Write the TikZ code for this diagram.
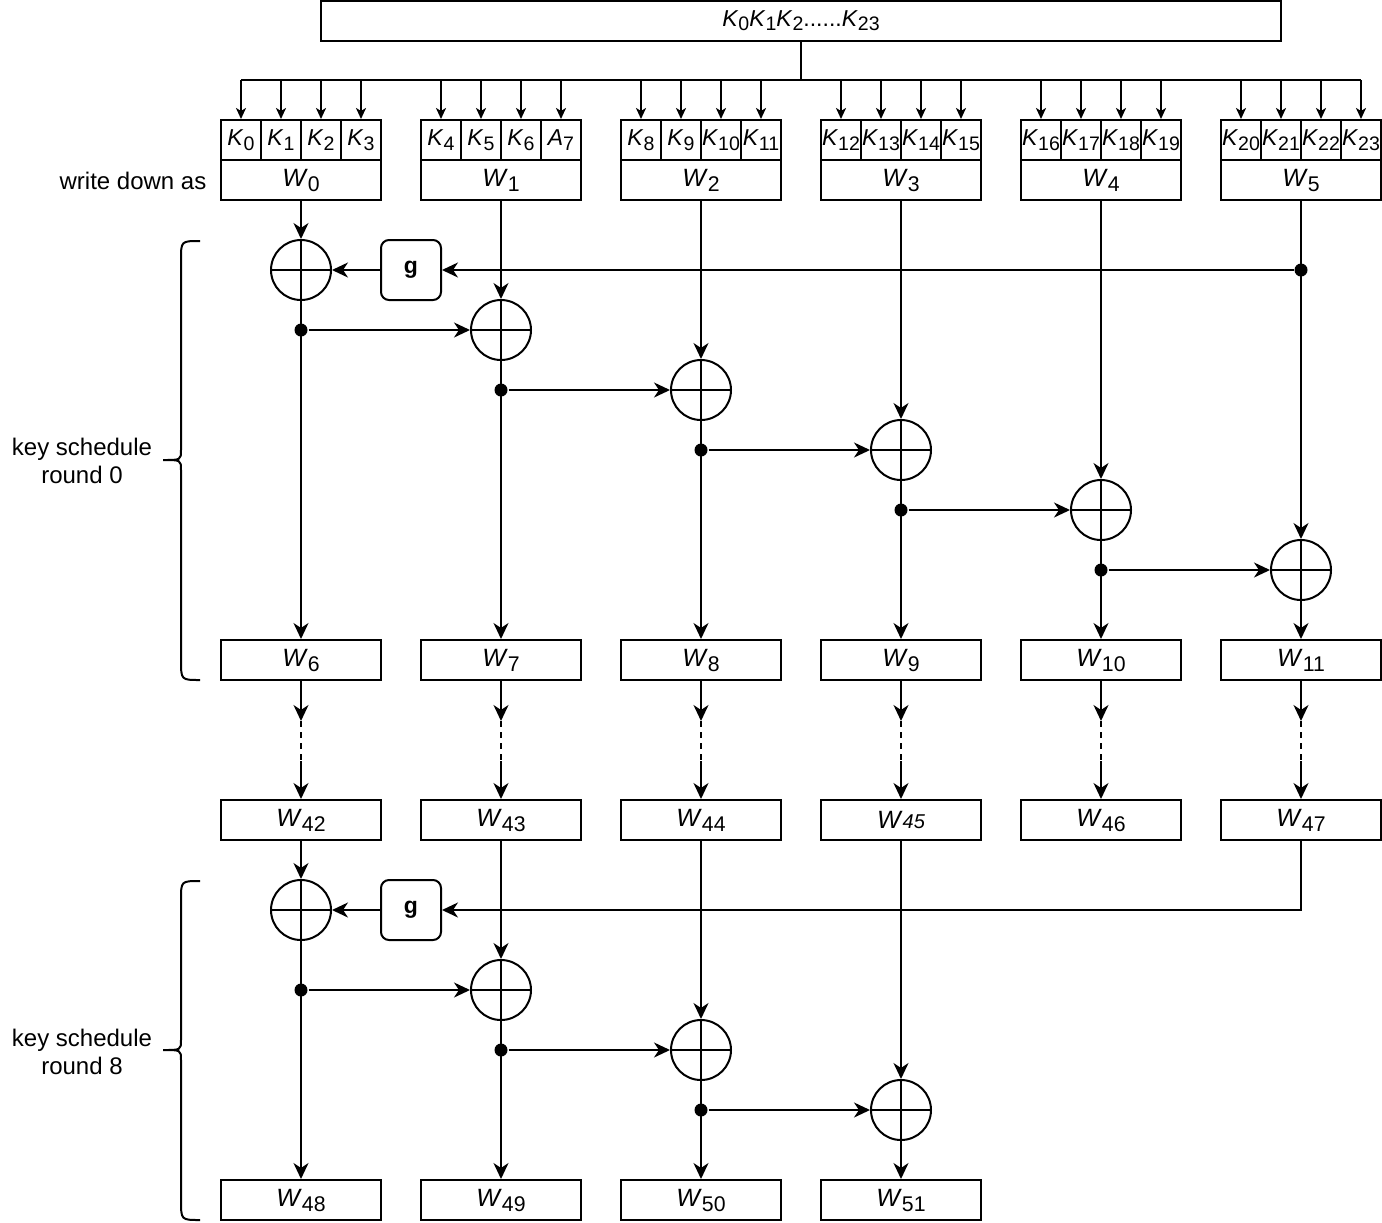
\documentclass[tikz,border=0pt]{standalone}
\usepackage{fontspec}
\setmainfont{Liberation Sans}
\usetikzlibrary{arrows.meta}
\tikzset{kcell/.style={draw, minimum width=20pt, minimum height=20pt, inner sep=0pt, font=\fontsize{11.5}{13}\selectfont}}
\tikzset{wbox/.style={draw, minimum width=80pt, minimum height=20pt, inner sep=0pt, font=\fontsize{12.5}{14}\selectfont}}
\tikzset{xorc/.style={circle, draw, minimum size=30pt, inner sep=0pt,
    path picture={\draw (path picture bounding box.north) -- (path picture bounding box.south)
      (path picture bounding box.west) -- (path picture bounding box.east);}}}
\tikzset{gbox/.style={draw, rounded corners=4pt, minimum size=30pt, inner sep=0pt, font=\fontsize{11.5}{13}\selectfont\bfseries}}
\tikzset{junc/.style={circle, fill, inner sep=0pt, minimum size=6.5pt}}
\tikzset{arr/.style={-{Stealth[length=8pt,width=7.5pt,inset=2.5pt]}}}
\tikzset{sarr/.style={-{Stealth[length=5.5pt,width=5pt,inset=1.5pt]}}}
\tikzset{lab/.style={align=center, font=\fontsize{12}{14}\selectfont}}
\newcommand{\sk}[2]{\textit{#1}\raisebox{-0.2em}{\scalebox{0.85}{#2}}}

\begin{document}
\begin{tikzpicture}[x=0.5pt,y=-0.5pt,line width=1pt]
    \useasboundingbox (0,0) rectangle (1382,1222);
    \node[draw, minimum width=480pt, minimum height=20pt, inner sep=0pt, font=\fontsize{11.5}{13}\selectfont]
      (key) at (801,20.5) {\sk{K}{0}\sk{K}{1}\sk{K}{2}......\sk{K}{23}};
    \coordinate (bus) at (801,80);
    \draw (key) -- (bus);

    % key bytes written down as words
    \foreach \i in {0,...,5} {
      \node[wbox] (w\i) at (301+200*\i,180) {\sk{W}{\i}};
      \foreach \j in {0,...,3} {
        \pgfmathtruncatemacro{\n}{4*\i+\j}
        \node[kcell] (k\n) at (241+200*\i+40*\j,140) {\ifnum\n=7 \sk{A}{7}\else\sk{K}{\n}\fi};
      }
    }
    \draw (k0.north |- bus) -- (k23.north |- bus);
    \foreach \n in {0,...,23} {
      \draw[sarr] (k\n.north |- bus) -- (k\n.north);
    }
    \node[lab, anchor=east] (wda) at (214,181) {write down as};

    % round 0
    \node[gbox] (g0) at (411,270) {g};
    \foreach \i in {0,...,5} {
      \node[xorc] (a\i) at (301+200*\i,270+60*\i) {};
    }
    \node[junc] (ja5) at (1301,270) {};
    \foreach \i in {0,...,4} {
      \node[junc] (ja\i) at (301+200*\i,330+60*\i) {};
    }
    \foreach \i/\w/\v in {0/6/42, 1/7/43, 2/8/44, 3/9/45, 4/10/46, 5/11/47} {
      \node[wbox] (w\w) at (301+200*\i,660) {\sk{W}{\w}};
      \ifnum\v=45
        \node[wbox] (w\v) at (301+200*\i,820) {\textit{W}{\fontsize{10}{12}\selectfont\textit{45}}};
      \else
        \node[wbox] (w\v) at (301+200*\i,820) {\sk{W}{\v}};
      \fi
      \draw[arr] (w\i) -- (a\i);
      \draw[arr] (a\i) -- (w\w);
      \path (w\w.south) ++(0,40) coordinate (p\i) ++(0,40) coordinate (q\i);
      \draw[arr] (w\w) -- (p\i);
      \draw[dash pattern=on 3pt off 2.5pt] (p\i) -- (q\i);
      \draw[arr] (q\i) -- (w\v);
    }
    \draw[arr] (ja5) -- (g0);
    \draw[arr] (g0) -- (a0);
    \foreach \i/\k in {0/1, 1/2, 2/3, 3/4, 4/5} {
      \draw[arr] (ja\i) -- (a\k);
    }

    % round 8
    \node[gbox] (g8) at (411,910) {g};
    \foreach \i/\y/\v/\w in {0/910/42/48, 1/990/43/49, 2/1050/44/50, 3/1110/45/51} {
      \node[xorc] (b\i) at (301+200*\i,\y) {};
      \node[wbox] (w\w) at (301+200*\i,1200) {\sk{W}{\w}};
      \draw[arr] (w\v) -- (b\i);
      \draw[arr] (b\i) -- (w\w);
    }
    \foreach \i/\k in {0/1, 1/2, 2/3} {
      \node[junc] (jb\i) at (b\i |- b\k) {};
      \draw[arr] (jb\i) -- (b\k);
    }
    \draw[arr] (w47) |- (g8);
    \draw[arr] (g8) -- (b0);

    % braces
    \draw (200,241) .. controls (181,241) .. (181,260) -- (181,450)
      .. controls (181,460) .. (163,460) .. controls (181,460) .. (181,470)
      -- (181,660) .. controls (181,680) .. (200,680);
    \node[lab] (r0) at (82,461) {key schedule\\round 0};
    \draw (200,881) .. controls (181,881) .. (181,900) -- (181,1040)
      .. controls (181,1050) .. (163,1050) .. controls (181,1050) .. (181,1060)
      -- (181,1200) .. controls (181,1220) .. (200,1220);
    \node[lab] (r8) at (82,1052) {key schedule\\round 8};
  \end{tikzpicture}
\end{document}
